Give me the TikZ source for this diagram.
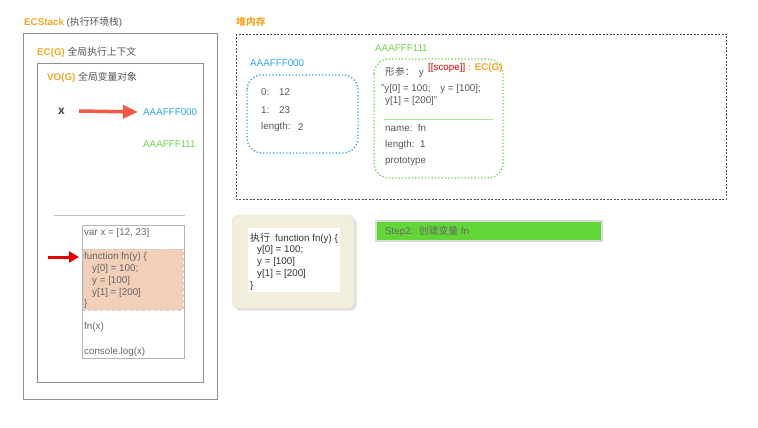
\documentclass[tikz,border=0pt]{standalone}
\usepackage{fontspec}
\setmainfont{Liberation Sans}
\newfontfamily\cjk{Noto Sans CJK SC}
\usetikzlibrary{positioning,arrows.meta,shadows}

\definecolor{labelorange}{HTML}{F5A623}
\definecolor{addrblue}{HTML}{2CA3F2}
\definecolor{addrgreen}{HTML}{6DD34B}
\definecolor{arrowred}{HTML}{F05A48}
\definecolor{textgray}{HTML}{555555}
\definecolor{framegray}{HTML}{8E8E8E}
\definecolor{codepeach}{HTML}{F2CFB8}
\definecolor{notebeige}{HTML}{F2EEDC}
\definecolor{stepgreen}{HTML}{62D637}

\tikzset{
  txt/.style={font=\fontsize{9.8}{12}\selectfont, text=textgray, anchor=west, inner sep=0pt},
  title/.style={font=\bfseries\fontsize{9.8}{12}\selectfont, text=labelorange, anchor=west, inner sep=0pt},
  frame/.style={draw=framegray, line width=0.8pt},
  dotbox/.style={dotted, line width=1.3pt, rounded corners=15pt},
}

\begin{document}
\begin{tikzpicture}[x=1pt,y=-1pt]
        \useasboundingbox (0,0) rectangle (758,428);

        % draw execution stack
        \node[title] (ecs) at (24,22) {ECStack \textcolor{textgray}{\mdseries ({\cjk 执行环境栈})}};
        \draw[frame] (23,33) rectangle (217,399);
        \node[title] (ecg) at (37,52) {EC(G) \textcolor{textgray}{\mdseries\cjk 全局执行上下文}};
        \draw[frame] (37,63) rectangle (203,382);
        \node[title] (vog) at (47,77) {VO(G) \textcolor{textgray}{\mdseries\cjk 全局变量对象}};

        % draw variable object
        \node[txt, font=\bfseries\fontsize{12}{14}\selectfont, text=black!75] (x) at (58,111) {x};
        \node[txt, text=addrblue] (addr0) at (143,112) {AAAFFF000};
        \node[txt, text=addrgreen] (addr1) at (143,144) {AAAFFF111};
        \draw[arrowred, line width=3.5pt, -{Triangle[length=15pt,width=13pt]}] (79,111) -- ([xshift=-5pt]addr0.west);

        % draw code
        \draw[black!25] (54,215) -- (185,215);
        \draw[black!30, fill=white] (82,225) rectangle (184,358);
        \draw[black!20, dashed, fill=codepeach] (83,249) rectangle (183,310);
        \foreach \y/\xx/\t in {233/84/{var x = [12, 23]}, 269/92/{y[0] = 100;}, 281/92/{y = [100]},
                               293/92/{y[1] = [200]}, 304/84/\}, 327/84/fn(x), 352/84/console.log(x)}
          \node[txt, text=black!60] at (\xx,\y) {\t};
        \node[txt, text=black!60] (fnhead) at (84,257) {function fn(y) \{};
        \coordinate (pointer) at (48,257);
        \draw[red!90!black, line width=3pt, -{Triangle[length=10pt,width=11pt]}] (pointer) -- ([xshift=-5pt]fnhead.west);

        % draw heap
        \node[title] (heap) at (236,22) {\cjk 堆内存};
        \draw[black!70, dash pattern=on 2pt off 1.5pt, line width=0.8pt] (236,34) rectangle (726,199);

        % draw array object
        \node[txt, text=addrblue] (heap0) at (250,63) {AAAFFF000};
        \draw[addrblue, dotbox] (247,75) rectangle (358,153);
        \foreach \y/\k/\v/\vx in {92/0:/12/279, 110/1:/23/279, 127/length:/2/298} {
          \node[txt] at (261,\y) {\k};
          \node[txt] at (\vx,\y) {\v};
        }

        % draw function object
        \node[txt, text=addrgreen] (heap1) at (375,48) {AAAFFF111};
        \draw[addrgreen, dotbox] (374,59) rectangle (503,178);
        \node[txt] (param) at (385,72) {{\cjk 形参：}\, y};
        \node[txt] (scope) at (428,68)
          {\textcolor{red!85!black}{[[scope]]} \textcolor{labelorange}{\bfseries : EC(G)}};
        \node[txt] (body1) at (381,89) {"y[0] = 100;\quad y = [100];};
        \node[txt] (body2) at (385,101) {y[1] = [200]"};
        \draw[addrgreen!60, line width=0.7pt] (384,119) -- (493,119);
        \node[txt] (fname) at (385,128) {name:\ \ fn};
        \node[txt] (flen) at (385,145) {length:\ \ 1};
        \node[txt] (fproto) at (385,161) {prototype};

        % draw note
        \draw[draw=black!12, fill=notebeige, rounded corners=6pt, drop shadow={opacity=0.25}] (232,215) rectangle (354,308);
        \draw[draw=none, fill=white] (248,228) rectangle (340,292);
        \node[txt, text=black!80] (note) at (250,238) {{\cjk 执行}\ \ function fn(y) \{};
        \foreach \y/\xx/\t in {250/257/{y[0] = 100;}, 262/257/{y = [100]}, 274/257/{y[1] = [200]}, 286/250/\}}
          \node[txt, text=black!80] at (\xx,\y) {\t};

        % draw step
        \draw[black!15, line width=1.5pt, fill=stepgreen] (376,221) rectangle (602,241);
        \node[txt, text=black!60] (step) at (385,231) {Step2:\ \ {\cjk 创建变量} fn};
\end{tikzpicture}
\end{document}
